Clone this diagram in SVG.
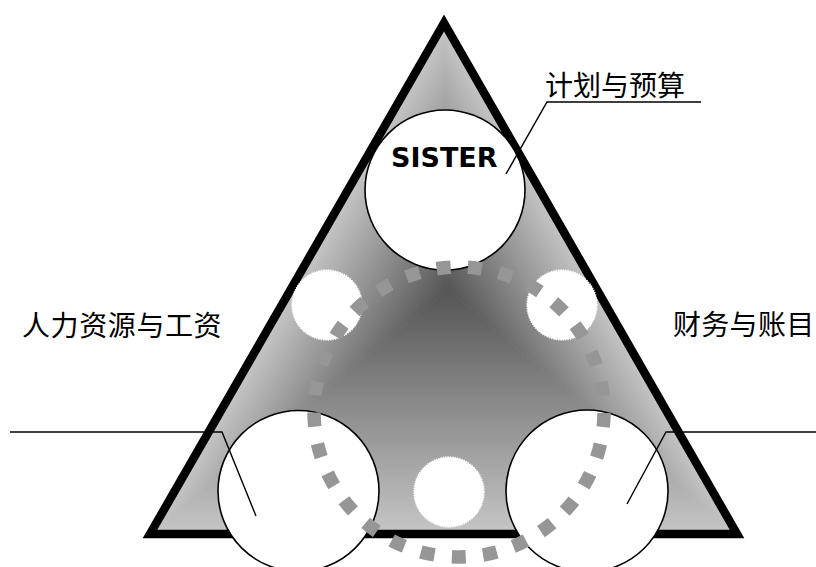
<svg xmlns="http://www.w3.org/2000/svg" width="816" height="567" viewBox="0 0 816 567">
<style>
.cjk{font-family:"Noto Sans CJK SC","Noto Sans",sans-serif;font-size:28px;fill:#000}
.big{fill:#fff;stroke:#000;stroke-width:1.6}
.small{fill:#fff;stroke:#fff;stroke-width:1.5;stroke-dasharray:1.2 1.2}
.lead{fill:none;stroke:#000;stroke-width:1.4}
</style>
<defs>
<linearGradient id="gl" gradientUnits="userSpaceOnUse" x1="329.6" y1="221.9" x2="448" y2="290">
<stop offset="0" stop-color="#c6c6c6"/><stop offset="1" stop-color="#555555"/>
</linearGradient>
<linearGradient id="gr" gradientUnits="userSpaceOnUse" x1="560.3" y1="225.6" x2="448" y2="290">
<stop offset="0" stop-color="#c6c6c6"/><stop offset="1" stop-color="#555555"/>
</linearGradient>
<linearGradient id="gb" gradientUnits="userSpaceOnUse" x1="448" y1="534" x2="448" y2="290">
<stop offset="0" stop-color="#c6c6c6"/><stop offset="1" stop-color="#555555"/>
</linearGradient>
</defs>
<g id="triangle">
<polygon points="448,290 444,23 150,534" fill="url(#gl)" stroke="url(#gl)" stroke-width="0.8"/>
<polygon points="448,290 444,23 737,534" fill="url(#gr)" stroke="url(#gr)" stroke-width="0.8"/>
<polygon points="448,290 150,534 737,534" fill="url(#gb)" stroke="url(#gb)" stroke-width="0.8"/>
<polygon points="444,23 150,534 737,534" fill="none" stroke="#000" stroke-width="8.5" stroke-linejoin="miter"/>
</g>
<g id="sister">
<circle class="big" cx="445" cy="190" r="80"/>
<text x="391" y="167" font-family="'DejaVu Sans',Verdana,sans-serif" font-weight="bold" font-size="27">SISTER</text>
</g>
<g id="small-left"><circle class="small" cx="327" cy="305" r="35"/></g>
<g id="small-right"><circle class="small" cx="562" cy="305" r="35"/></g>
<g id="small-bottom"><circle class="small" cx="449" cy="492" r="35"/></g>
<g id="hr-circle"><circle class="big" cx="298.5" cy="491" r="80.5"/></g>
<g id="fin-circle"><circle class="big" cx="587" cy="491" r="81"/></g>
<g id="ring">
<circle cx="459" cy="412" r="145" fill="none" stroke="#969696" stroke-width="13.5" stroke-dasharray="14 17.41" stroke-dashoffset="-1"/>
</g>
<g id="connectors">
<polyline class="lead" points="506,174 547,102 701,102"/>
<polyline class="lead" points="10,432 222,432 256,516"/>
<polyline class="lead" points="627,504 666,432 816,432"/>
</g>
<g id="labels">
<text class="cjk" x="545" y="96" font-size="29">计划与预算</text>
<text class="cjk" x="22" y="336" letter-spacing="0.6">人力资源与工资</text>
<text class="cjk" x="673" y="335" letter-spacing="0.3">财务与账目</text>
</g>
</svg>
